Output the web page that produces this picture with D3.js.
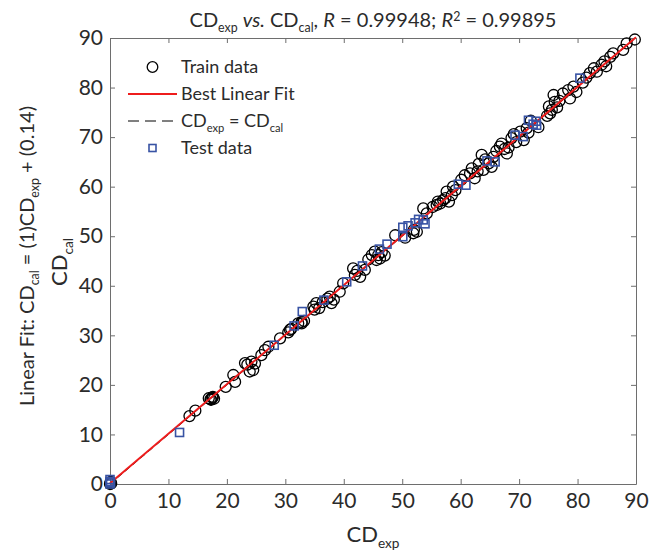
<!DOCTYPE html>
<html>
<head>
<meta charset="utf-8">
<script src="https://cdn.jsdelivr.net/npm/d3@7"></script>
<style>
  body { margin: 0; background: #fff; }
  svg text { font-family: Lato, "Open Sans", sans-serif; fill: #2b2b2b; }
</style>
</head>
<body>
<div id="chart"></div>
<script>
// train data: [CD_exp, CD_cal]
const trainExp = [0, 0.2, 0.1, 13.6, 14.6, 17.2, 17.5, 17.6, 17.3, 16.9, 17.8, 19.8, 21.4, 21.1, 23.1, 24.2, 24.5, 23.9, 23.5, 24.8, 25.9, 26.5, 27.1, 29.1, 30.8, 31.0, 30.5, 32.2, 32.8, 32.8, 33.2,
  34.8, 35.3, 35.0, 35.8, 36.4, 37.9, 37.6, 37.2, 38.3, 39.3, 39.9, 41.6, 42.8, 41.9, 42.3, 43.6, 44.2, 44.8, 45.3, 46.2, 45.9, 45.6, 46.5, 47.0, 48.8, 50.5, 51.9, 52.0, 52.5,
  53.6, 54.2, 55.2, 55.9, 56.1, 56.5, 57.0, 57.4, 57.6, 58.5, 58.7, 58.0, 59.1,
  60.1, 60.7, 61.6, 61.9, 62.4, 62.9, 63.1, 63.6, 63.9, 64.2, 65.3, 64.8, 65.6, 66.1, 66.7, 67.9, 67.0, 67.5, 68.2, 68.7, 69.1, 70.2, 71.3, 69.5, 70.8, 71.6, 72.0, 73.3,
  74.8, 75.1, 75.3, 76.1, 75.9, 75.6, 76.5, 76.9, 77.5, 78.7, 78.4, 79.3, 79.8, 80.9, 81.5, 82.1, 82.8, 83.3, 84.1, 84.6, 84.9, 85.6, 86.1, 87.8, 88.4, 89.8];
const trainCal = [0, 0.1, 0.4, 13.7, 14.8, 17.1, 17.4, 17.6, 17.0, 17.3, 17.2, 19.6, 20.6, 22.0, 24.4, 24.7, 23.0, 22.7, 24.1, 24.3, 26.0, 27.0, 27.7, 29.4, 31.1, 31.3, 30.6, 32.4, 32.7, 32.4, 32.9,
  35.8, 36.5, 35.2, 35.5, 36.7, 36.5, 37.8, 37.4, 37.2, 38.8, 40.5, 43.5, 41.8, 42.2, 43.0, 43.2, 45.3, 46.2, 46.9, 45.5, 46.2, 45.2, 46.8, 46.1, 50.2, 49.7, 50.6, 51.3, 50.9,
  55.6, 54.6, 55.9, 56.3, 57.0, 56.6, 57.3, 57.7, 59.0, 58.3, 60.0, 57.0, 59.3,
  61.4, 62.3, 62.7, 63.7, 61.7, 63.1, 64.6, 66.4, 63.4, 65.5, 64.0, 64.7, 66.0, 67.2, 68.1, 66.7, 68.7, 67.6, 67.9, 69.8, 70.6, 71.1, 71.8, 69.0, 69.4, 70.9, 73.3, 72.0,
  74.3, 76.2, 74.8, 77.1, 78.5, 75.5, 76.0, 77.3, 78.8, 77.8, 79.5, 80.2, 79.1, 81.0, 82.0, 82.9, 83.9, 83.2, 84.6, 85.3, 84.3, 86.2, 86.9, 87.6, 88.9, 89.7];

// test data
const testExp = [0, 0, 0, 0.1, 11.9, 28.1, 31.5, 32.9, 36.6, 40.5, 43.2, 46.1, 47.4, 50.1, 50.1, 51.0, 52.2, 53.6, 53.9, 52.8, 59.6, 60.9, 64.5, 65.9, 69.3, 70.7, 71.6, 72.4, 73.0, 72.9, 80.4];
const testCal = [0, 0.5, 0.9, 0.3, 10.4, 28.0, 31.9, 34.8, 37.1, 40.8, 44.0, 47.4, 48.4, 49.9, 51.8, 52.1, 52.7, 53.3, 52.5, 53.4, 60.5, 60.3, 65.2, 65.0, 70.4, 70.1, 73.4, 72.6, 72.4, 73.2, 81.9];

// linear fit CD_cal = 1*CD_exp + 0.14
const fitSlope = 1, fitIntercept = 0.14;
const ticks = [0, 10, 20, 30, 40, 50, 60, 70, 80, 90];

const w = 650, h = 550;
const margin = { top: 38, right: 14, bottom: 66, left: 110 };

const svg = d3.select("#chart").append("svg")
  .attr("width", w).attr("height", h);

const x = d3.scaleLinear().domain([0, 90]).range([margin.left, w - margin.right]);
const y = d3.scaleLinear().domain([0, 90]).range([h - margin.bottom, margin.top]);

const axisColor = "#6e6e6e";

// axes (ticks inward, MATLAB style)
const gx = svg.append("g").attr("transform", `translate(0,${y(0)})`)
  .call(d3.axisBottom(x).tickValues(ticks).tickSizeInner(-5).tickSizeOuter(0).tickPadding(9));
const gy = svg.append("g").attr("transform", `translate(${x(0)},0)`)
  .call(d3.axisLeft(y).tickValues(ticks).tickSizeInner(-5).tickSizeOuter(0).tickPadding(7));
const gt = svg.append("g").attr("transform", `translate(0,${y(90)})`)
  .call(d3.axisTop(x).tickValues(ticks).tickSizeInner(-5).tickSizeOuter(0).tickFormat(""));
const gr = svg.append("g").attr("transform", `translate(${x(90)},0)`)
  .call(d3.axisRight(y).tickValues(ticks).tickSizeInner(-5).tickSizeOuter(0).tickFormat(""));

[gx, gy, gt, gr].forEach(g => {
  g.select(".domain").attr("stroke", axisColor);
  g.selectAll(".tick line").attr("stroke", axisColor);
  g.selectAll(".tick text").attr("font-size", 21).attr("fill", "#2b2b2b")
    .style("font-family", "Lato, sans-serif");
});

const plot = svg.append("g");

// train circles
plot.selectAll("circle.train")
  .data(trainExp.map((v, i) => [v, trainCal[i]]))
  .enter().append("circle")
  .attr("class", "train")
  .attr("cx", d => x(d[0]))
  .attr("cy", d => y(d[1]))
  .attr("r", 5.5)
  .attr("fill", "none")
  .attr("stroke", "#000")
  .attr("stroke-width", 1.3);

// identity line
plot.append("path")
  .datum([0, 90])
  .attr("d", d3.line().x(d => x(d)).y(d => y(d)))
  .attr("stroke", "#000").attr("stroke-width", 1).attr("stroke-dasharray", "6,4").attr("fill", "none");

// best linear fit
plot.append("path")
  .datum([0, 90])
  .attr("d", d3.line().x(d => x(d)).y(d => y(fitSlope * d + fitIntercept)))
  .attr("stroke", "#ee1c1c").attr("stroke-width", 2).attr("fill", "none");

// test squares
const sq = 8;
plot.selectAll("rect.test")
  .data(testExp.map((v, i) => [v, testCal[i]]))
  .enter().append("rect")
  .attr("class", "test")
  .attr("x", d => x(d[0]) - sq / 2)
  .attr("y", d => y(d[1]) - sq / 2)
  .attr("width", sq).attr("height", sq)
  .attr("fill", "none")
  .attr("stroke", "#3853a4")
  .attr("stroke-width", 1.6);

// helper: text with sub/superscripts, parts = [[text, "sub"|"sup"|"i"|null], ...]
function richText(sel, parts, size) {
  parts.forEach(p => {
    const t = sel.append("tspan").text(p[0]);
    if (p[1] === "sub") {
      t.attr("font-size", size * 0.62).attr("baseline-shift", -size * 0.25);
    } else if (p[1] === "sup") {
      t.attr("font-size", size * 0.62).attr("baseline-shift", size * 0.32);
    } else if (p[1] === "i") {
      t.attr("font-style", "italic");
    }
  });
}

// title
const title = svg.append("text")
  .attr("x", 373).attr("y", 27)
  .attr("text-anchor", "middle").attr("font-size", 20);
richText(title, [["CD"], ["exp", "sub"], [" "], ["vs.", "i"], [" CD"], ["cal", "sub"], [", "], ["R", "i"],
  [" = 0.99948; "], ["R", "i"], ["2", "sup"], [" = 0.99895"]], 20);

// x label
const xl = svg.append("text")
  .attr("x", 373).attr("y", 542)
  .attr("text-anchor", "middle").attr("font-size", 22);
richText(xl, [["CD"], ["exp", "sub"]], 22);

// y labels
const yl1 = svg.append("text")
  .attr("transform", "translate(34,256) rotate(-90)")
  .attr("text-anchor", "middle").attr("font-size", 20);
richText(yl1, [["Linear Fit: CD"], ["cal", "sub"], [" = (1)CD"], ["exp", "sub"], [" + (0.14)"]], 20);

const yl2 = svg.append("text")
  .attr("transform", "translate(67,262) rotate(-90)")
  .attr("text-anchor", "middle").attr("font-size", 22);
richText(yl2, [["CD"], ["cal", "sub"]], 22);

// legend
const lg = svg.append("g");
const lx0 = 128, lx1 = 177, ltx = 181;
const rows = [67, 94, 121, 148];

lg.append("circle").attr("cx", (lx0 + lx1) / 2).attr("cy", rows[0])
  .attr("r", 5.3).attr("fill", "none").attr("stroke", "#000").attr("stroke-width", 1.3);
lg.append("line").attr("x1", lx0).attr("x2", lx1).attr("y1", rows[1]).attr("y2", rows[1])
  .attr("stroke", "#ee1c1c").attr("stroke-width", 2);
lg.append("line").attr("x1", lx0).attr("x2", lx1).attr("y1", rows[2]).attr("y2", rows[2])
  .attr("stroke", "#000").attr("stroke-width", 1).attr("stroke-dasharray", "11,6");
lg.append("rect").attr("x", (lx0 + lx1) / 2 - 3.5).attr("y", rows[3] - 3.5)
  .attr("width", 7).attr("height", 7).attr("fill", "none")
  .attr("stroke", "#3853a4").attr("stroke-width", 1.6);

const lt = (row, parts) => {
  const t = lg.append("text").attr("x", ltx).attr("y", rows[row] + 6).attr("font-size", 18);
  richText(t, parts, 18);
};
lt(0, [["Train data"]]);
lt(1, [["Best Linear Fit"]]);
lt(2, [["CD"], ["exp", "sub"], [" = CD"], ["cal", "sub"]]);
lt(3, [["Test data"]]);
</script>
</body>
</html>
